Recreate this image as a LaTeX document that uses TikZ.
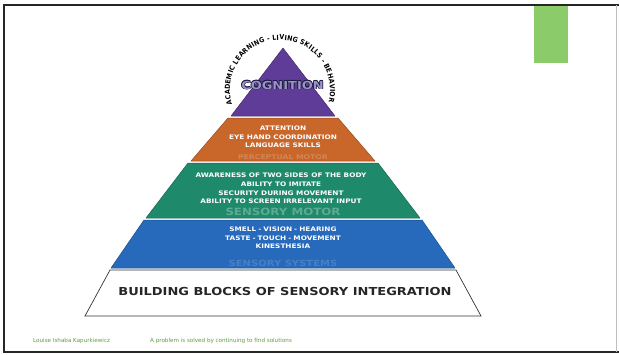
\documentclass[tikz,border=0pt]{standalone}
\usepackage{fontspec}
\setmainfont{DejaVu Sans}
\newfontfamily\heavy{DejaVu Sans}[FakeStretch=1.18]
\newfontfamily\narrow{DejaVu Sans}[FakeStretch=0.9]
\usetikzlibrary{decorations.text}

\definecolor{purpleband}{HTML}{5E3C97}
\definecolor{orangeband}{HTML}{C9662A}
\definecolor{greenband}{HTML}{1F8A6B}
\definecolor{blueband}{HTML}{2769BA}
\definecolor{cogfill}{HTML}{9A93C4}
\definecolor{cogline}{HTML}{1E1A45}
\definecolor{footgreen}{HTML}{5E9E3E}
\definecolor{tabgreen}{HTML}{8CCB6A}

\tikzset{
  band/.style={fill=#1, draw=#1!75!black, line width=0.5pt, line join=round},
  bandtext/.style={text=white, font=\heavy\bfseries\fontsize{6.2}{8.6}\selectfont, align=center, inner sep=0pt},
  ghost/.style={font=\heavy\bfseries\fontsize{#1}{#1}\selectfont, inner sep=0pt},
  foot/.style={text=footgreen, font=\fontsize{5.6}{6}\selectfont, anchor=west, inner sep=0pt}
}

\begin{document}
\begin{tikzpicture}[x=1pt, y=-1pt]
\useasboundingbox (0,0) rectangle (619,354);
\fill[white] (0,0) rectangle (619,354);

% slide frame
\draw[line width=1.6pt, black!85] (619,5) -- (4,5) -- (4,352) -- (619,352);
\draw[line width=0.6pt, black!25] (616,5) -- (616,352);

% green tab in the corner
\fill[tabgreen] (534,6) rectangle (568,63);

% pyramid bands, top to bottom
\path[band=purpleband] (283,48) -- (335,116) -- (231,116) -- cycle;
\path[band=orangeband] (228,118) -- (338,118) -- (375,161) -- (191,161) -- cycle;
\path[band=greenband]  (188,163) -- (378,163) -- (420,218) -- (146,218) -- cycle;
\path[band=blueband]   (144,220) -- (422,220) -- (455,268) -- (111,268) -- cycle;
\draw[line width=0.7pt, black!80, fill=white] (110,270) -- (456,270) -- (481,316) -- (85,316) -- cycle;

% faint level names inside the bands
\node[ghost=6.5, text=orangeband!80!white] (pm) at (283,157.5) {PERCEPTUAL MOTOR};
\node[ghost=10, text=greenband!72!white] (sm) at (283,212) {SENSORY MOTOR};
\node[ghost=8.5, text=blueband!85!white] (ss) at (283,263) {SENSORY SYSTEMS};

% cognition label with dark outline
\foreach \dx/\dy in {-0.7/0,0.7/0,0/-0.7,0/0.7,-0.5/-0.5,0.5/0.5,-0.5/0.5,0.5/-0.5}
  \node[text=cogline, font=\heavy\bfseries\fontsize{11}{11}\selectfont, inner sep=0pt] at (282.5+\dx,85+\dy) {COGNITION};
\node[text=cogfill, font=\heavy\bfseries\fontsize{11}{11}\selectfont, inner sep=0pt] (cog) at (282.5,85) {COGNITION};

% curved caption over the apex
\begin{scope}[shift={(280,90)}, y=1pt]
  \path[decorate, decoration={text along path, text align={fit to path},
        text={|\narrow\bfseries\fontsize{7}{7}\selectfont|ACADEMIC LEARNING - LIVING SKILLS - BEHAVIOR}}]
        (197:50) arc[start angle=197, end angle=-14, radius=50];
\end{scope}

% band contents
\node[bandtext] (att) at (283,137) {ATTENTION\\EYE HAND COORDINATION\\LANGUAGE SKILLS};
\node[bandtext] (aw) at (281,188.5) {AWARENESS OF TWO SIDES OF THE BODY\\ABILITY TO IMITATE\\SECURITY DURING MOVEMENT\\ABILITY TO SCREEN IRRELEVANT INPUT};
\node[bandtext] (sen) at (283,238) {SMELL\,\,-\,\,VISION\,\,-\,\,HEARING\\TASTE\,\,-\,\,TOUCH\,\,-\,\,MOVEMENT\\KINESTHESIA};
\node[text=black!85, font=\heavy\bfseries\fontsize{11}{11}\selectfont, inner sep=0pt] (base) at (285,291) {BUILDING BLOCKS OF SENSORY INTEGRATION};

% footer
\node[foot] (f1) at (33,341) {Louise Ishaba Kapurkiewicz};
\node[foot] (f2) at (150,341) {A problem is solved by continuing to find solutions};
\end{tikzpicture}
\end{document}
